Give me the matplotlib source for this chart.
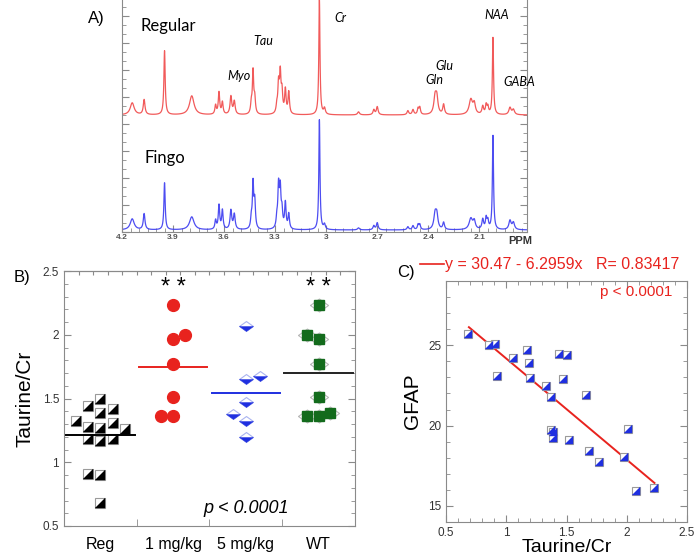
import numpy as np
import matplotlib
matplotlib.use('Agg')
import matplotlib.pyplot as plt
from matplotlib.ticker import MultipleLocator, FixedLocator, NullFormatter

plt.rcParams['font.family'] = ['Liberation Sans', 'DejaVu Sans']
plt.rcParams['path.simplify'] = False

# ---------------- Panel A data (peak list) ----------------
peak_ppm = [4.14, 4.07, 3.95, 3.79, 3.65, 3.63, 3.61, 3.56, 3.54, 3.44, 3.43, 3.42,
            3.29, 3.28, 3.27, 3.26, 3.24, 3.22, 3.04, 3.01, 2.81, 2.72, 2.70, 2.52,
            2.49, 2.46, 2.45, 2.36, 2.35, 2.31, 2.15, 2.13, 2.08, 2.06, 2.05, 2.02,
            1.92, 1.90]
red_heights = [12, 15, 64, 19, 9, 22, 12, 18, 13, 10, 42, 15,
               7, 28, 38, 20, 24, 22, 115, 6, 3, 5, 8, 4,
               5, 6, 7, 17, 15, 10, 15, 10, 8, 9, 7, 77,
               7, 5]
blue_heights = [11, 16, 47, 13, 9, 24, 19, 19, 15, 10, 44, 27,
                9, 41, 37, 16, 26, 15, 110, 5, 2, 4, 7, 3,
                4, 5, 5, 15, 13, 7, 11, 8, 10, 11, 8, 94,
                9, 7]
peak_widths = [0.014, 0.006, 0.0045, 0.016, 0.005, 0.005, 0.005, 0.006, 0.006, 0.005, 0.0045, 0.005,
               0.005, 0.005, 0.005, 0.005, 0.005, 0.005, 0.004, 0.006, 0.007, 0.006, 0.006, 0.006,
               0.006, 0.005, 0.005, 0.009, 0.008, 0.006, 0.012, 0.008, 0.006, 0.005, 0.005, 0.004,
               0.008, 0.008]
ppm_ticks = [4.2, 3.9, 3.6, 3.3, 3.0, 2.7, 2.4, 2.1]
ppm_tick_labels = ['4.2', '3.9', '3.6', '3.3', '3', '2.7', '2.4', '2.1']
red_baseline = 117
blue_baseline = 2
metabolite_labels = ['Tau', 'Myo', 'Cr', 'Glu', 'Gln', 'NAA', 'GABA']
metabolite_pos = [(3.43, 191), (3.58, 156), (2.95, 214), (2.36, 166), (2.42, 152), (2.07, 217), (1.96, 150)]

# ---------------- Panel B data ----------------
groups = ['Reg', '1 mg/kg', '5 mg/kg', 'WT']
reg_x = [0, -0.17, 0.17, 0, -0.33, -0.17, 0, 0.17, 0.34, -0.17, 0, 0.17, -0.17, 0, 0]
reg_y = [1.50, 1.44, 1.42, 1.39, 1.32, 1.28, 1.27, 1.31, 1.26, 1.18, 1.17, 1.18, 0.91, 0.90, 0.68]
mg1_x = [0, 0, 0.17, 0, 0, -0.17, 0]
mg1_y = [2.23, 1.97, 2.00, 1.77, 1.51, 1.36, 1.36]
mg5_x = [0, 0, 0.19, 0, -0.18, 0, 0]
mg5_y = [2.07, 1.65, 1.68, 1.47, 1.38, 1.32, 1.20]
wt_x = [0, -0.16, 0, 0, 0, -0.16, 0, 0.16]
wt_y = [2.23, 2.00, 1.97, 1.77, 1.51, 1.36, 1.36, 1.39]
group_means = [1.21, 1.75, 1.54, 1.70]
mean_colors = ['black', '#e8231e', '#1f2fe0', '#222222']

# ---------------- Panel C data ----------------
tau_cr = [0.68, 0.86, 0.91, 0.92, 1.06, 1.17, 1.19, 1.20, 1.33, 1.37, 1.44, 1.50,
          1.47, 1.66, 1.37, 1.39, 1.39, 1.52, 1.69, 1.77, 1.98, 2.01, 2.08, 2.23]
gfap = [25.68, 25.0, 25.06, 23.07, 24.19, 24.69, 23.90, 22.97, 22.47, 21.79, 24.48, 24.38,
        22.89, 21.89, 19.72, 19.58, 19.20, 19.10, 18.42, 17.71, 18.02, 19.78, 15.93, 16.14]
fit_intercept = 30.47
fit_slope = -6.2959
fit_R = 0.83417

# ============================================================
fig = plt.figure(figsize=(6.97, 5.59), dpi=100)
W, H = 697.0, 559.0

def axrect(x0, y0, x1, y1):
    return [x0 / W, 1 - y1 / H, (x1 - x0) / W, (y1 - y0) / H]

spine_col = '#8a8a8a'

# ---------------- Panel A ----------------
axA = fig.add_axes(axrect(122, -2, 527, 232))
ppm = np.linspace(4.2, 1.80, 8000)
def spectrum(heights):
    s = np.zeros_like(ppm)
    for p, h, w in zip(peak_ppm, heights, peak_widths):
        s += h / (1 + ((ppm - p) / w) ** 2)
    return s
axA.plot(ppm, red_baseline + spectrum(red_heights), color='#f04848', lw=0.9, alpha=0.9)
axA.plot(ppm, blue_baseline + spectrum(blue_heights), color='#3a3af0', lw=0.9, alpha=0.9)
axA.set_xlim(4.2, 1.82)
axA.set_ylim(0, 234)
axA.spines['top'].set_visible(False)
for s in ['left', 'right', 'bottom']:
    axA.spines[s].set_color(spine_col)
    axA.spines[s].set_linewidth(0.8)
axA.xaxis.set_major_locator(FixedLocator(ppm_ticks))
axA.set_xticklabels(ppm_tick_labels)
axA.xaxis.set_minor_locator(MultipleLocator(0.05))
axA.yaxis.set_major_locator(MultipleLocator(27))
axA.yaxis.set_minor_locator(MultipleLocator(9))
axA.yaxis.set_major_formatter(NullFormatter())
axA.tick_params(which='both', direction='in', color=spine_col, right=True, top=False)
axA.tick_params(which='major', length=5, width=0.8, labelsize=6, labelcolor='#555555', pad=1.5)
axA.tick_params(which='minor', length=3, width=0.6)
for lab in axA.get_xticklabels():
    lab.set_fontweight('bold')
axA.text(1.86, -4, 'PPM', fontsize=8, color='#333333', ha='center', va='top', fontweight='bold')
axA.text(4.09, 206, 'Regular', fontsize=12, family=['Lato', 'DejaVu Sans'], ha='left', va='center')
axA.text(4.07, 74, 'Fingo', fontsize=12, family=['Lato', 'DejaVu Sans'], ha='left', va='center')
for lab, (px, py) in zip(metabolite_labels, metabolite_pos):
    axA.text(px, py, lab, fontsize=9, style='italic', family=['Lato', 'DejaVu Sans'],
             ha='left', va='center', clip_on=False)
fig.text(88 / W, 1 - 18 / H, 'A)', fontsize=12, ha='left', va='center')

# ---------------- Panel B ----------------
axB = fig.add_axes(axrect(64, 271, 355, 526))
gray_edge = '#9a9a9a'
sq_lr = [(-1, -1), (1, -1), (1, 1)]
def half_squares(ax, xs, ys, color, ms):
    ax.plot(xs, ys, 's', ms=ms, mfc='white', mec=gray_edge, mew=0.8, ls='none', zorder=3)
    ax.plot(xs, ys, marker=sq_lr, ms=ms, mfc=color, mec=color, mew=0.3, ls='none', zorder=4)

half_squares(axB, [1 + d for d in reg_x], reg_y, 'black', 7)
axB.plot([2 + d for d in mg1_x], mg1_y, 'o', ms=8.5, color='#e8231e', mec='#e8231e', zorder=4)
dia = [(-1.4, 0), (0, -1), (1.4, 0), (0, 1), (-1.4, 0)]
dia_low = [(-1.4, 0), (1.4, 0), (0, -1), (-1.4, 0)]
x5 = [3 + d for d in mg5_x]
axB.plot(x5, mg5_y, marker=dia, ms=10, mfc='white', mec='#aab4f0', mew=0.8, ls='none', zorder=3)
axB.plot(x5, mg5_y, marker=dia_low, ms=10, mfc='#1f2fe0', mec='#1f2fe0', mew=0.3, ls='none', zorder=4)
xw = [4 + d for d in wt_x]
axB.plot(xw, wt_y, marker=dia, ms=13, mfc='white', mec='#b8b8b8', mew=0.8, ls='none', zorder=3)
axB.plot(xw, wt_y, 's', ms=7.5, mfc='#136b1c', mec='#136b1c', ls='none', zorder=4)
for i, (m, c) in enumerate(zip(group_means, mean_colors)):
    axB.plot([i + 1 - 0.47, i + 1 + 0.47], [m, m], color=c, lw=1.4, zorder=5)
axB.text(2, 2.37, '* *', fontsize=17, ha='center', va='center')
axB.text(4, 2.37, '* *', fontsize=17, ha='center', va='center')
axB.text(3, 0.64, 'p < 0.0001', fontsize=13, style='italic', ha='center', va='center')
axB.set_xlim(0.5, 4.5)
axB.set_ylim(0.5, 2.5)
axB.set_xticks([1, 2, 3, 4])
axB.set_xticklabels(groups, fontsize=11.5)
axB.xaxis.set_minor_locator(FixedLocator([1.5, 2.5, 3.5]))
axB.set_yticks([0.5, 1, 1.5, 2, 2.5])
axB.set_yticklabels(['0.5', '1', '1.5', '2', '2.5'])
axB.yaxis.set_minor_locator(MultipleLocator(0.1))
axB.tick_params(axis='x', which='major', length=0, pad=8)
axB.tick_params(axis='x', which='minor', direction='in', length=5, color=spine_col, top=False)
axB.tick_params(axis='y', which='both', direction='in', color=spine_col, right=True, labelsize=8.5, labelcolor='#333333')
axB.tick_params(axis='y', which='major', length=5)
axB.tick_params(axis='y', which='minor', length=3)
secB = axB.secondary_xaxis('top')
secB.set_xticks(list(np.arange(0.7, 4.45, 0.2)))
secB.tick_params(direction='in', length=3, color=spine_col, labeltop=False)
secB.spines['top'].set_color(spine_col)
for s in axB.spines.values():
    s.set_color(spine_col)
    s.set_linewidth(0.8)
axB.set_ylabel('Taurine/Cr', fontsize=15, labelpad=6)
fig.text(14 / W, 1 - 278 / H, 'B)', fontsize=12, ha='left', va='center')

# ---------------- Panel C ----------------
axC = fig.add_axes(axrect(446, 281, 687, 522))
xs_fit = np.array([min(tau_cr) + 0.01, max(tau_cr)])
axC.plot(xs_fit, fit_intercept + fit_slope * xs_fit, color='#e8231e', lw=1.4, zorder=2)
half_squares(axC, tau_cr, gfap, '#1f2fe0', 6)
axC.set_xlim(0.5, 2.5)
axC.set_ylim(14, 29)
axC.set_xticks([0.5, 1, 1.5, 2, 2.5])
axC.set_xticklabels(['0.5', '1', '1.5', '2', '2.5'])
axC.set_yticks([15, 20, 25])
axC.xaxis.set_minor_locator(MultipleLocator(0.1))
axC.yaxis.set_minor_locator(MultipleLocator(1))
axC.tick_params(which='both', direction='in', color=spine_col, right=True, top=True, labelsize=8.5, labelcolor='#333333')
axC.tick_params(which='major', length=5)
axC.tick_params(which='minor', length=3)
for s in axC.spines.values():
    s.set_color(spine_col)
    s.set_linewidth(0.8)
axC.set_xlabel('Taurine/Cr', fontsize=14, labelpad=0)
axC.set_ylabel('GFAP', fontsize=15, labelpad=4)
fig.text(672 / W, 1 - 292 / H, 'p < 0.0001', fontsize=11, color='#e8231e', ha='right', va='center')
fig.lines.append(plt.Line2D([420 / W, 444 / W], [1 - 264 / H, 1 - 264 / H], color='#e8231e', lw=1.2,
                           transform=fig.transFigure))
fig.text(445 / W, 1 - 264 / H, 'y = 30.47 - 6.2959x   R= 0.83417', fontsize=11.5, color='#e8231e',
         ha='left', va='center')
fig.text(397 / W, 1 - 273 / H, 'C)', fontsize=12, ha='left', va='center')

fig.savefig('out.png', dpi=100)
